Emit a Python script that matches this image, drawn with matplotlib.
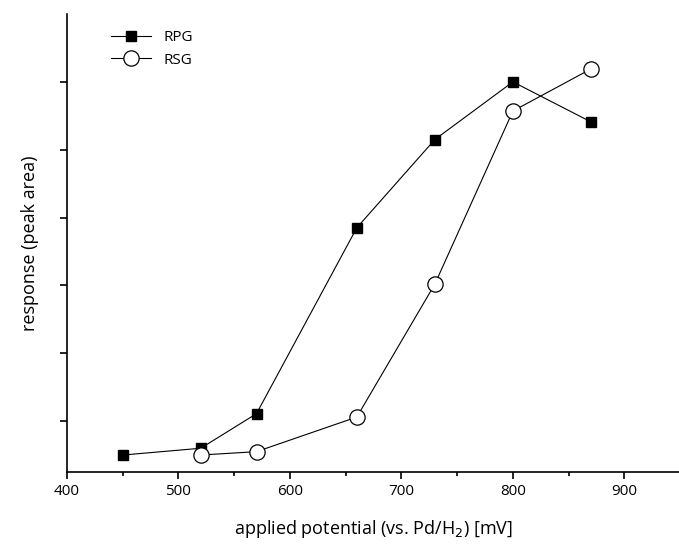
import matplotlib.pyplot as plt
from matplotlib.ticker import MultipleLocator

plt.rcParams['font.family'] = ['Open Sans', 'DejaVu Sans']

potential_rpg = [450, 520, 570, 660, 730, 800, 870]
response_rpg = [0.25, 0.35, 0.86, 3.6, 4.9, 5.75, 5.16]
potential_rsg = [520, 570, 660, 730, 800, 870]
response_rsg = [0.25, 0.30, 0.81, 2.77, 5.32, 5.94]

fig = plt.figure(figsize=(6.79, 5.49), dpi=100)
ax = fig.add_axes([67/679, 1-472/549, 612/679, 458/549])

ax.plot(potential_rpg, response_rpg, '-s', color='black', lw=0.8,
        ms=7, mfc='black', label='RPG')
ax.plot(potential_rsg, response_rsg, '-o', color='black', lw=0.8,
        ms=11, mfc='white', mew=0.9, label='RSG')

ax.set_xlim(400, 949)
ax.set_ylim(0, 6.75)
ax.xaxis.set_major_locator(MultipleLocator(100))
ax.xaxis.set_minor_locator(MultipleLocator(50))
ax.set_yticks([0.75, 1.75, 2.75, 3.75, 4.75, 5.75])
ax.set_yticklabels([])
ax.tick_params(direction='out', width=1.2, length=5, labelsize=11)
ax.tick_params(which='minor', direction='out', width=1.2, length=3)
for s in ['top', 'right']:
    ax.spines[s].set_visible(False)
for s in ['left', 'bottom']:
    ax.spines[s].set_linewidth(1.2)

ax.set_xlabel('applied potential (vs. Pd/H$_2$) [mV]', fontsize=13, labelpad=14)
ax.set_ylabel('response (peak area)', fontsize=13, labelpad=12)
ax.legend(loc='upper left', frameon=False, fontsize=11, handlelength=2.6,
          bbox_to_anchor=(0.05, 0.995))

fig.savefig('out.png')
